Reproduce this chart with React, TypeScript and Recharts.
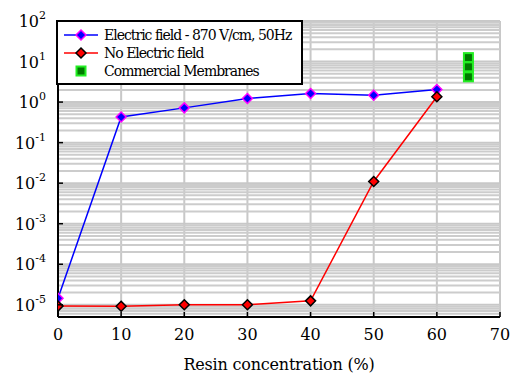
import {
  ComposedChart,
  Line,
  Scatter,
  XAxis,
  YAxis,
  CartesianGrid,
  Legend,
  ReferenceLine,
} from 'recharts';

// Resin concentration (%) on the x axis
const resin = [0, 10, 20, 30, 40, 50, 60];
// Values
const withField = [1.45e-5, 0.43, 0.72, 1.23, 1.63, 1.48, 2.05];
const noField = [9.3e-6, 9.2e-6, 1.0e-5, 1.0e-5, 1.25e-5, 0.011, 1.35];

const membraneX = [65, 65, 65];
const membraneY = [12.5, 7.4, 4.2];

const xTicks = [0, 10, 20, 30, 40, 50, 60, 70];
const yTicks = [1e-5, 1e-4, 1e-3, 1e-2, 1e-1, 1, 10, 100];
const yTickExponents = ['-5', '-4', '-3', '-2', '-1', '0', '1', '2'];
const minorDecades = [1e-6, 1e-5, 1e-4, 1e-3, 1e-2, 1e-1, 1, 10];
const minorSteps = [2, 3, 4, 5, 6, 7, 8, 9];

const chartData = resin.map((x, i) => ({ x, field: withField[i], none: noField[i] }));
const membraneData = membraneX.map((x, i) => ({ x, y: membraneY[i] }));
const minorTicks = minorDecades
  .flatMap((d) => minorSteps.map((s) => s * d))
  .filter((v) => v >= 5e-6 && v <= 100);

const FONT = "'DejaVu Serif', serif";

const Diamond = ({ cx, cy, fill, stroke }: any) => {
  if (cx == null || cy == null) return null;
  const r = 5;
  return (
    <path
      d={`M${cx},${cy - r} L${cx + r},${cy} L${cx},${cy + r} L${cx - r},${cy} Z`}
      fill={fill}
      stroke={stroke}
      strokeWidth={1.5}
    />
  );
};

const GreenSquare = ({ cx, cy }: any) => (
  <rect x={cx - 4.5} y={cy - 4.5} width={9} height={9} fill="#007a00" stroke="#22ee22" strokeWidth={2} />
);

const YTick = ({ x, y, payload }: any) => {
  const idx = yTicks.indexOf(payload.value);
  return (
    <g>
      <line x1={x + 12} x2={x + 17} y1={y} y2={y} stroke="#000" strokeWidth={1.5} />
      <text x={x} y={y + 6} textAnchor="end" style={{ fontFamily: FONT }} fontSize={16} fill="#000">
        <tspan>10</tspan>
        <tspan dy={-8} fontSize={11}>{yTickExponents[idx]}</tspan>
      </text>
    </g>
  );
};

const XTick = ({ x, y, payload }: any) => (
  <g>
    <line x1={x} x2={x} y1={y - 10} y2={y - 15} stroke="#000" strokeWidth={1.5} />
    <text x={x} y={y + 13} textAnchor="middle" style={{ fontFamily: FONT }} fontSize={16} fill="#000">
      {payload.value}
    </text>
  </g>
);

const legendRows = [
  { label: 'Electric field - 870 V/cm, 50Hz', color: '#0000ff', fill: '#0000ff', stroke: '#ff00ff' },
  { label: 'No Electric field', color: '#ff0000', fill: '#ff0000', stroke: '#000000' },
  { label: 'Commercial Membranes', color: null, fill: '', stroke: '' },
];

const ChartLegend = () => (
  <div
    style={{
      border: '2px solid #000',
      background: '#fff',
      width: 243,
      height: 61,
      fontFamily: FONT,
      fontSize: 14,
      letterSpacing: -1,
      boxSizing: 'content-box',
    }}
  >
    {legendRows.map((r, i) => (
      <div key={r.label} style={{ display: 'flex', alignItems: 'center', height: 18, marginTop: i === 0 ? 4 : 0 }}>
        <svg width={46} height={16} style={{ flex: 'none' }}>
          {r.color ? (
            <>
              <line x1={6} x2={40} y1={8} y2={8} stroke={r.color} strokeWidth={1.5} />
              <Diamond cx={23} cy={8} fill={r.fill} stroke={r.stroke} />
            </>
          ) : (
            <GreenSquare cx={23} cy={8} />
          )}
        </svg>
        <span style={{ color: '#000', whiteSpace: 'nowrap' }}>{r.label}</span>
      </div>
    ))}
  </div>
);

export default function App() {
  return (
    <div style={{ position: 'absolute', left: 0, top: 0, background: '#fff' }}>
      <ComposedChart
        width={510}
        height={377}
        data={chartData}
        margin={{ top: 21, right: 10, bottom: 0, left: 0 }}
      >
        <CartesianGrid stroke="#c8c8c8" strokeWidth={2} />
        {minorTicks.map((v) => (
          <ReferenceLine key={v} y={v} stroke="#cccccc" strokeWidth={2} ifOverflow="hidden" />
        ))}
        <XAxis
          type="number"
          dataKey="x"
          domain={[0, 70]}
          ticks={xTicks}
          allowDataOverflow
          tickSize={0}
          tickMargin={10}
          tick={<XTick />}
          axisLine={{ stroke: '#000', strokeWidth: 2 }}
          height={60}
          label={{
            value: 'Resin concentration (%)',
            position: 'insideBottom',
            offset: 7,
            style: { fontFamily: FONT, fontSize: 16, letterSpacing: -0.2, fill: '#000' },
          }}
        />
        <XAxis
          xAxisId="top"
          orientation="top"
          type="number"
          domain={[0, 70]}
          height={0}
          tick={false}
          tickLine={false}
          axisLine={{ stroke: '#333', strokeWidth: 1.5 }}
        />
        <YAxis
          scale="log"
          domain={[5e-6, 100]}
          ticks={yTicks}
          allowDataOverflow
          width={58}
          tickSize={0}
          tickMargin={12}
          tick={<YTick />}
          axisLine={{ stroke: '#000', strokeWidth: 2 }}
        />
        <YAxis
          yAxisId="right"
          orientation="right"
          scale="log"
          domain={[5e-6, 100]}
          width={0}
          tick={false}
          tickLine={false}
          axisLine={{ stroke: '#333', strokeWidth: 1.5 }}
        />
        <Legend
          layout="vertical"
          align="center"
          verticalAlign="middle"
          content={<ChartLegend />}
          wrapperStyle={{ position: 'absolute', left: 56, top: 20, width: 247 }}
        />
        <Line
          dataKey="field"
          stroke="#0000ff"
          strokeWidth={1.5}
          dot={<Diamond fill="#0000ff" stroke="#ff00ff" />}
          isAnimationActive={false}
        />
        <Line
          dataKey="none"
          stroke="#ff0000"
          strokeWidth={1.5}
          dot={<Diamond fill="#ff0000" stroke="#000000" />}
          isAnimationActive={false}
        />
        <Scatter
          data={membraneData}
          dataKey="y"
          shape={<GreenSquare />}
          isAnimationActive={false}
        />
      </ComposedChart>
    </div>
  );
}
